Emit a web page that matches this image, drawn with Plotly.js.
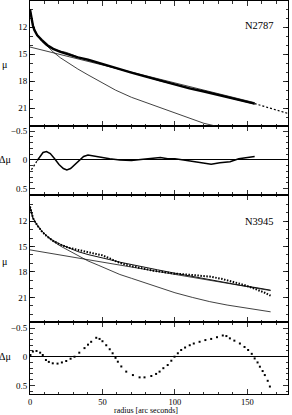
<!DOCTYPE html>
<html><head><meta charset="utf-8">
<script src="https://cdn.plot.ly/plotly-3.0.1.min.js"></script>
<style>body{margin:0;background:#fff}</style>
</head><body><div id="chart" style="width:292px;height:415px"></div>
<script>
// ---- N2787 profile panel ----
const n2787DataR = [0,1,2,3,5,8,12,16,21,27,33,40,47,54,60,70,80,90,100,110,120,130,140,150,155];
const n2787DataMu = [10.0,11.0,11.8,12.3,12.9,13.4,14.0,14.4,14.75,15.05,15.35,15.6,15.95,16.3,16.6,17.05,17.5,17.95,18.35,18.8,19.15,19.55,19.95,20.3,20.5];
const n2787ExtR = [155,165,178];
const n2787ExtMu = [20.5,21.0,21.6];
const n2787FitR = [0,2,5,8,11,15,20,25,30,35,40,48,55,62,70,80,90,100,110,120,130,140,150,155];
const n2787FitMu = [10.0,11.68,12.9,13.55,14.0,14.35,14.62,14.8,15.1,15.45,15.69,16.04,16.37,16.69,17.04,17.5,17.99,18.37,18.79,19.1,19.52,19.95,20.35,20.56];
const n2787BulgeR = [0,1,2,3,5,8,12,16,21,27,33,40,48,59,70,82,95,110,120,128];
const n2787BulgeMu = [10.0,11.0,11.8,12.3,12.95,13.5,14.15,14.75,15.4,16.05,16.65,17.3,18.05,19.0,19.8,20.5,21.3,22.2,22.7,23.0];
const n2787DiskR = [0,155];
const n2787DiskMu = [14.2,20.4];
// ---- N2787 residuals ----
const n2787ResDotR = [1,2,3,4,5];
const n2787ResDotD = [0.17,0.12,0.09,0.05,0.01];
const n2787ResR = [5,7,9,11.4,14,17,20,23,25.4,28,31,34,37,40,44,48,55,62,70,78,85,90,95,100,106,113,119,125,131,138,144,150,155];
const n2787ResD = [0.01,-0.07,-0.13,-0.145,-0.11,-0.02,0.08,0.15,0.174,0.15,0.08,0.0,-0.06,-0.087,-0.07,-0.04,-0.02,0.0,0.012,-0.01,-0.035,-0.04,-0.02,-0.02,0.0,0.03,0.05,0.075,0.05,0.03,-0.02,-0.047,-0.058];
// ---- N3945 profile panel ----
const n3945DataR = [0,1,2,3,5,8,12,16,21,27,33,39,45,50,55,60,66,72,78,85,92,100,108,116,124,132,140,147,153,158,162,166];
const n3945DataMu = [10.3,11.0,11.6,12.0,12.5,13.2,13.85,14.35,14.8,15.15,15.4,15.6,15.8,16.05,16.4,16.8,17.15,17.4,17.6,17.85,18.05,18.2,18.3,18.4,18.55,18.8,19.15,19.5,19.85,20.15,20.45,20.8];
const n3945FitR = [0,2,5,8,12,16,21,27,33,40,47,55,62,70,78,88,100,112,124,135,146,156,166];
const n3945FitMu = [10.3,11.65,12.5,13.15,13.8,14.3,14.75,15.2,15.6,15.95,16.2,16.55,16.85,17.15,17.4,17.75,18.15,18.55,18.9,19.25,19.6,19.85,20.15];
const n3945BulgeR = [0,2,5,8,12,16,21,27,33,40,47,55,62,70,78,88,100,112,124,136,147,157,166];
const n3945BulgeMu = [10.3,11.65,12.5,13.15,13.85,14.4,14.95,15.5,16.05,16.7,17.2,17.8,18.3,18.75,19.2,19.8,20.45,21.0,21.5,21.9,22.2,22.45,22.7];
const n3945DiskR = [0,166];
const n3945DiskMu = [15.4,20.2];
// ---- N3945 residuals ----
const n3945ResR = [0.3,2,4.5,7,8.8,11,13,15.7,19,22,25,28,30.7,34,37.6,40,42.2,45.7,48,50,52.6,55,57,59,60.6,63,66.4,71,75.6,79,83.7,87,89.4,92,95,97.5,99.7,102,104.3,107,110.2,113,117,121,125,129,133,135.5,137.9,141,144.8,148,150.5,153,155,157,158.6,160.5,162,164,165.5];
const n3945ResD = [-0.03,-0.09,-0.1,-0.07,-0.03,0.057,0.09,0.115,0.12,0.1,0.075,0.035,0,-0.07,-0.15,-0.21,-0.26,-0.33,-0.31,-0.27,-0.2,-0.13,-0.06,0.02,0.087,0.17,0.26,0.32,0.36,0.36,0.336,0.3,0.26,0.2,0.145,0.07,0,-0.06,-0.117,-0.16,-0.2,-0.23,-0.26,-0.29,-0.31,-0.34,-0.37,-0.36,-0.32,-0.28,-0.23,-0.17,-0.117,-0.05,0.03,0.1,0.174,0.25,0.32,0.42,0.52];
// ---- labels ----
const galaxyNames = ['N2787','N3945'];
const xTitle = 'radius [arc seconds]';

const FONT = 'Liberation Serif, DejaVu Serif, serif';
const thin = {color:'#111', width:0.8};
function ln(x,y,xa,ya,line){return {x:x,y:y,xaxis:xa,yaxis:ya,mode:'lines',line:line,hoverinfo:'skip',showlegend:false};}
const traces = [
  ln(n2787BulgeR,n2787BulgeMu,'x4','y4',thin),
  ln(n2787DiskR,n2787DiskMu,'x4','y4',thin),
  ln(n2787FitR,n2787FitMu,'x4','y4',thin),
  ln(n2787DataR,n2787DataMu,'x4','y4',{color:'#000',width:2.4}),
  ln(n2787ExtR,n2787ExtMu,'x4','y4',{color:'#000',width:1.2,dash:'2px,2px'}),
  ln(n2787ResR,n2787ResD,'x3','y3',{color:'#000',width:1.5}),
  ln(n2787ResDotR,n2787ResDotD,'x3','y3',{color:'#000',width:1.3,dash:'2px,2px'}),
  ln(n3945BulgeR,n3945BulgeMu,'x2','y2',thin),
  ln(n3945DiskR,n3945DiskMu,'x2','y2',thin),
  ln(n3945FitR,n3945FitMu,'x2','y2',{color:'#111',width:1.0}),
  ln(n3945DataR,n3945DataMu,'x2','y2',{color:'#000',width:2.0,dash:'1.5px,1.5px'}),
  {x:n3945ResR,y:n3945ResD,xaxis:'x',yaxis:'y',mode:'markers',marker:{symbol:'square',size:2,color:'#000'},hoverinfo:'skip',showlegend:false}
];

const tickfont = {family:FONT,size:9,color:'#000'};
function xax(anchor,labels){
  return {range:[0,178],anchor:anchor,showline:true,linecolor:'#000',linewidth:1,mirror:'allticks',
    ticks:'inside',ticklen:5,tickwidth:0.8,tickcolor:'#000',tick0:0,dtick:50,
    minor:{tick0:0,dtick:10,ticks:'inside',ticklen:2.5,tickwidth:0.8,tickcolor:'#000'},
    showgrid:false,zeroline:false,showticklabels:labels,tickfont:{family:FONT,size:8.5,color:'#000'},fixedrange:true};
}
function muax(domain,range){
  return {domain:domain,range:range,showline:true,linecolor:'#000',linewidth:1,mirror:'allticks',
    ticks:'inside',ticklen:5,tickwidth:0.8,tickcolor:'#000',tickmode:'array',tickvals:[12,15,18,21],
    minor:{tickmode:'linear',tick0:0,dtick:1,ticks:'inside',ticklen:2.5,tickwidth:0.8,tickcolor:'#000'},
    showgrid:false,zeroline:false,tickfont:tickfont,fixedrange:true};
}
function dax(domain,range){
  return {domain:domain,range:range,showline:true,linecolor:'#000',linewidth:1,mirror:'allticks',
    ticks:'inside',ticklen:5,tickwidth:0.8,tickcolor:'#000',tick0:0,dtick:0.5,
    minor:{tick0:0,dtick:0.1,ticks:'inside',ticklen:2.5,tickwidth:0.8,tickcolor:'#000'},
    showgrid:false,zeroline:true,zerolinecolor:'#000',zerolinewidth:1,tickfont:tickfont,fixedrange:true};
}
const layout = {
  width:292,height:415,margin:{l:30,r:4,t:1,b:21},
  paper_bgcolor:'#fff',plot_bgcolor:'#fff',showlegend:false,
  xaxis:Object.assign(xax('y',true),{ticklabelstandoff:0}), xaxis2:Object.assign(xax('y2',false),{matches:'x'}),
  xaxis3:Object.assign(xax('y3',false),{matches:'x'}), xaxis4:Object.assign(xax('y4',false),{matches:'x'}),
  yaxis:dax([0,0.1832],[0.65,-0.605]),
  yaxis2:muax([0.1832,0.5064],[23.9,8.93]),
  yaxis3:dax([0.5064,0.6819],[0.61,-0.59]),
  yaxis4:muax([0.6819,1],[23.0,9.07]),
  annotations:[
    {text:galaxyNames[0],xref:'x4',yref:'y4',x:169.5,y:11.75,xanchor:'right',yanchor:'middle',showarrow:false,font:{family:FONT,size:10.5,color:'#000'}},
    {text:galaxyNames[1],xref:'x2',yref:'y2',x:169.5,y:12.1,xanchor:'right',yanchor:'middle',showarrow:false,font:{family:FONT,size:10.5,color:'#000'}},
    {text:'μ',xref:'paper',yref:'y4',x:-0.1,y:16.2,xanchor:'center',yanchor:'middle',showarrow:false,font:{family:FONT,size:10,color:'#000'}},
    {text:'μ',xref:'paper',yref:'y2',x:-0.1,y:16.8,xanchor:'center',yanchor:'middle',showarrow:false,font:{family:FONT,size:10,color:'#000'}},
    {text:'Δμ',xref:'paper',yref:'y3',x:-0.095,y:0,xanchor:'center',yanchor:'middle',showarrow:false,font:{family:FONT,size:10,color:'#000'}},
    {text:'Δμ',xref:'paper',yref:'y',x:-0.095,y:0,xanchor:'center',yanchor:'middle',showarrow:false,font:{family:FONT,size:10,color:'#000'}},
    {text:xTitle,xref:'paper',yref:'paper',x:0.45,y:-0.041,xanchor:'center',yanchor:'middle',showarrow:false,font:{family:FONT,size:8,color:'#000'}}
  ]
};
Plotly.newPlot('chart',traces,layout,{displayModeBar:false,staticPlot:true});
</script></body></html>
